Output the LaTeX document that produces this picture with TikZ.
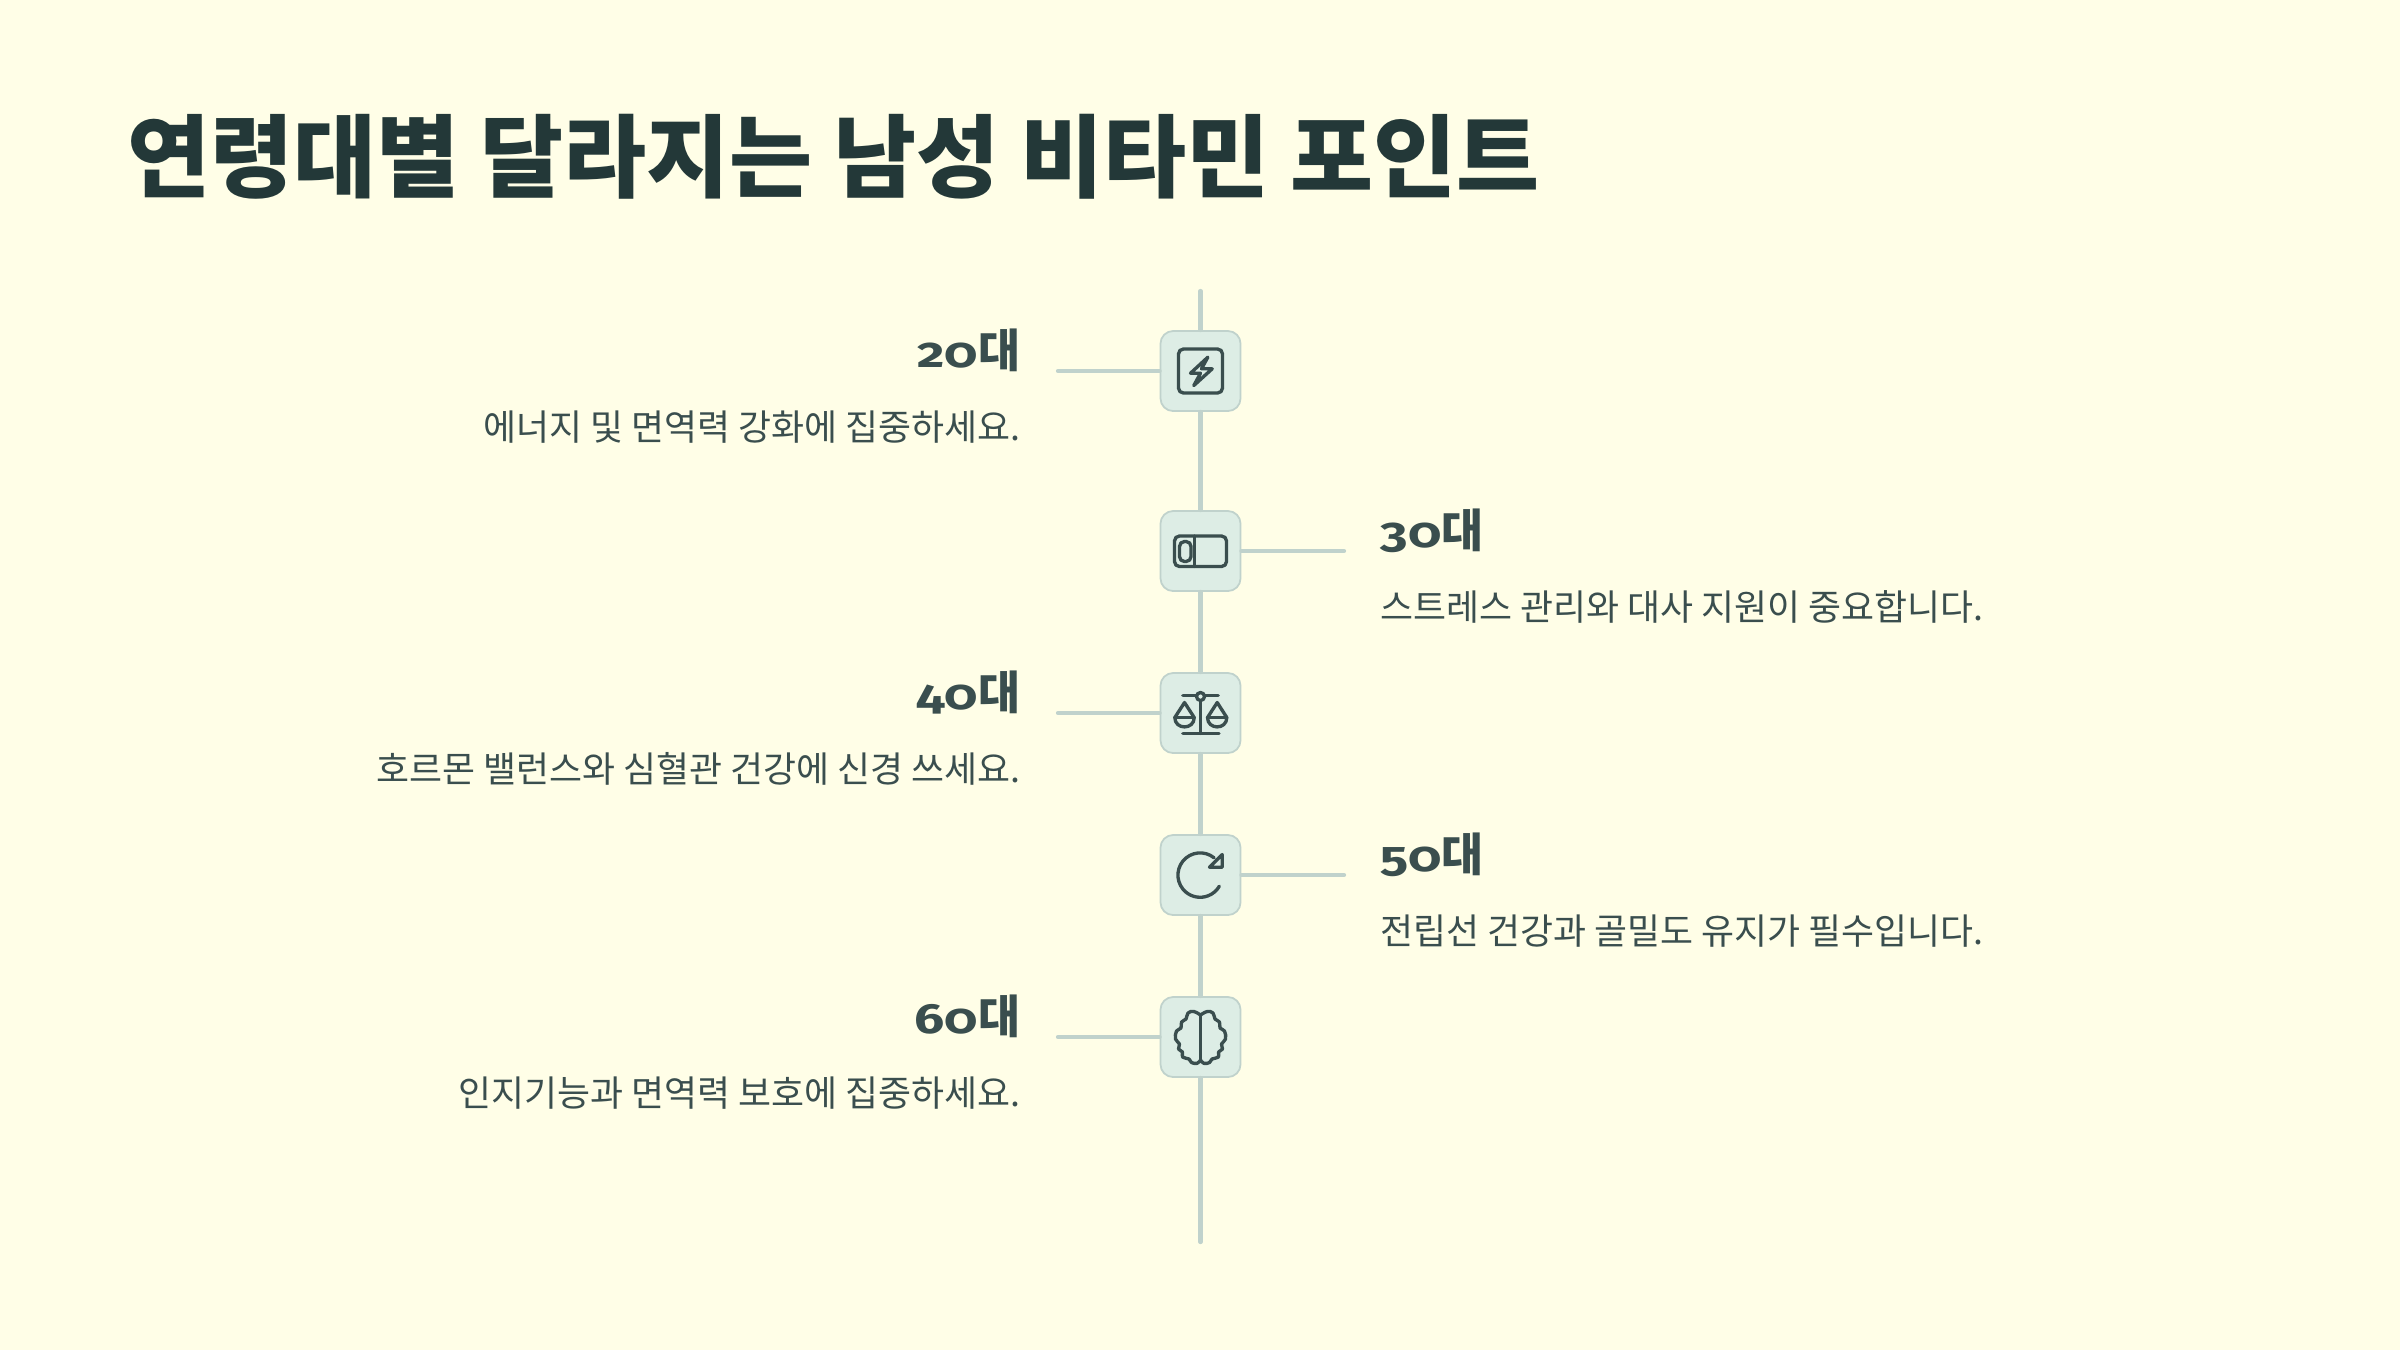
\documentclass[tikz,border=0pt]{standalone}
\usepackage{fontspec}
\usepackage{xcolor}
\setmainfont{Noto Sans CJK KR}
\newfontfamily\agefont[Numbers=OldStyle,FakeStretch=1.26]{Fira Sans}
\usetikzlibrary{positioning}
\definecolor{pagebg}{HTML}{FFFEE7}
\definecolor{inkdark}{HTML}{233838}
\definecolor{inktext}{HTML}{3A4E4E}
\definecolor{boxfill}{HTML}{DDEDE5}
\definecolor{boxline}{HTML}{C0D2CC}
\newcommand{\agenum}[1]{{\agefont\fontsize{12}{15}\selectfont #1}}

\begin{document}
\begin{tikzpicture}[
    x=0.01cm, y=-0.01cm,
    iconbox/.style={
      rectangle, rounded corners=3.6pt,
      minimum size=0.8cm, inner sep=0pt,
      draw=boxline, line width=0.5pt, fill=boxfill
    },
    line/.style={draw=boxline, line width=1.2pt, line cap=round},
    glyph/.style={draw=inktext, line width=0.95pt, line cap=round, line join=round},
    age/.style={font=\bfseries\fontsize{13}{15}\selectfont, text=inktext, inner sep=0pt},
    note/.style={font=\fontsize{10.2}{12}\selectfont, text=inktext, inner sep=0pt},
  ]
    \fill[pagebg] (0,0) rectangle (2400,1350);
    \useasboundingbox (0,0) rectangle (2400,1350);

    \node[anchor=base west, inner sep=0pt, text=inkdark, font=\bfseries\fontsize{25.67}{30}\selectfont]
      (title) at (127,190) {연령대별 달라지는 남성 비타민 포인트};

    % spine and boxes
    \coordinate (spinetop) at (1200.5,291);
    \coordinate (spinebot) at (1200.5,1242);
    \node[iconbox] (icon20) at (1200.5,371)  {};
    \node[iconbox] (icon30) at (1200.5,551)  {};
    \node[iconbox] (icon40) at (1200.5,713)  {};
    \node[iconbox] (icon50) at (1200.5,875)  {};
    \node[iconbox] (icon60) at (1200.5,1037) {};
    \draw[line] (spinetop) -- (icon20);
    \draw[line] (icon20) -- (icon30);
    \draw[line] (icon30) -- (icon40);
    \draw[line] (icon40) -- (icon50);
    \draw[line] (icon50) -- (icon60);
    \draw[line] (icon60) -- (spinebot);

    % ticks
    \coordinate (tick20) at (1058,371);
    \coordinate (tick30) at (1344,551);
    \coordinate (tick40) at (1058,713);
    \coordinate (tick50) at (1344,875);
    \coordinate (tick60) at (1058,1037);
    \draw[line] (tick20) -- (icon20);
    \draw[line] (tick30) -- (icon30);
    \draw[line] (tick40) -- (icon40);
    \draw[line] (tick50) -- (icon50);
    \draw[line] (tick60) -- (icon60);

    % labels
    \node[age, anchor=base east]  (age20)  at (1021,367)  {\agenum{20}대};
    \node[note, anchor=base east] (note20) at (1021,440)  {에너지 및 면역력 강화에 집중하세요.};
    \node[age, anchor=base west]  (age30)  at (1380,547)  {\agenum{30}대};
    \node[note, anchor=base west] (note30) at (1380,620)  {스트레스 관리와 대사 지원이 중요합니다.};
    \node[age, anchor=base east]  (age40)  at (1021,709)  {\agenum{40}대};
    \node[note, anchor=base east] (note40) at (1021,782)  {호르몬 밸런스와 심혈관 건강에 신경 쓰세요.};
    \node[age, anchor=base west]  (age50)  at (1380,871)  {\agenum{50}대};
    \node[note, anchor=base west] (note50) at (1380,944)  {전립선 건강과 골밀도 유지가 필수입니다.};
    \node[age, anchor=base east]  (age60)  at (1021,1033) {\agenum{60}대};
    \node[note, anchor=base east] (note60) at (1021,1106) {인지기능과 면역력 보호에 집중하세요.};

    % icons
    \begin{scope}[shift={(icon20.center)}]
      \draw[glyph, rounded corners=1.4pt] (-22,-22) rectangle (22,22);
      \draw[glyph] (7.3,-13.8) -- (-10,2.2) -- (0,2.2) -- (-6.7,14.5) -- (11.7,-2.2) -- (1,-2.2) -- cycle;
    \end{scope}
    \begin{scope}[shift={(icon30.center)}]
      \draw[glyph, rounded corners=1.4pt] (-26,-15) rectangle (26,15.5);
      \draw[glyph] (-5.7,-15) -- (-5.7,15.5);
      \draw[glyph, rounded corners=1.4pt] (-21,-9.5) rectangle (-9.5,10.5);
    \end{scope}
    \begin{scope}[shift={(icon40.center)}]
      \draw[glyph] (-17.7,-17.2) -- (-4,-17.2);
      \draw[glyph] (4,-17.2) -- (17.7,-17.2);
      \draw[glyph] (0,-16.5) circle (4);
      \draw[glyph] (0,-12) -- (0,20.5);
      \draw[glyph] (-17.7,20.5) -- (18.5,20.5);
      \draw[glyph] (-16,-10.5) -- (-25.7,4.5) .. controls (-25.7,17) and (-6.3,17) .. (-6.3,4.5) -- cycle;
      \draw[glyph] (-25.7,4.5) -- (-6.3,4.5);
      \draw[glyph] (16.7,-10.5) -- (7,4.5) .. controls (7,17) and (26.3,17) .. (26.3,4.5) -- cycle;
      \draw[glyph] (7,4.5) -- (26.3,4.5);
    \end{scope}
    \begin{scope}[shift={(icon50.center)}]
      \draw[glyph] (13.6,-17.2) arc[start angle=-51, end angle=-330, radius=22.2];
      \draw[glyph] (21.7,-20.5) -- (21.7,-7.8) -- (9,-7.8) -- cycle;
    \end{scope}
    \begin{scope}[shift={(icon60.center)}]
      \draw[glyph] (0,-22) -- (0,23);
      \draw[glyph] plot[smooth, tension=0.7] coordinates {(0,-22) (-6.7,-25.5) (-12.5,-24) (-14.5,-18) (-19,-15) (-19.5,-9) (-24,-6) (-25,2) (-21,7) (-22,12) (-18,15) (-18,20) (-11.5,22) (-9,25.5) (-3.3,26.3) (0,23)};
      \draw[glyph] plot[smooth, tension=0.7] coordinates {(0,-22) (6.7,-25.5) (12.5,-24) (14.5,-18) (19,-15) (19.5,-9) (24,-6) (25,2) (21,7) (22,12) (18,15) (18,20) (11.5,22) (9,25.5) (3.3,26.3) (0,23)};
    \end{scope}
  \end{tikzpicture}
\end{document}
